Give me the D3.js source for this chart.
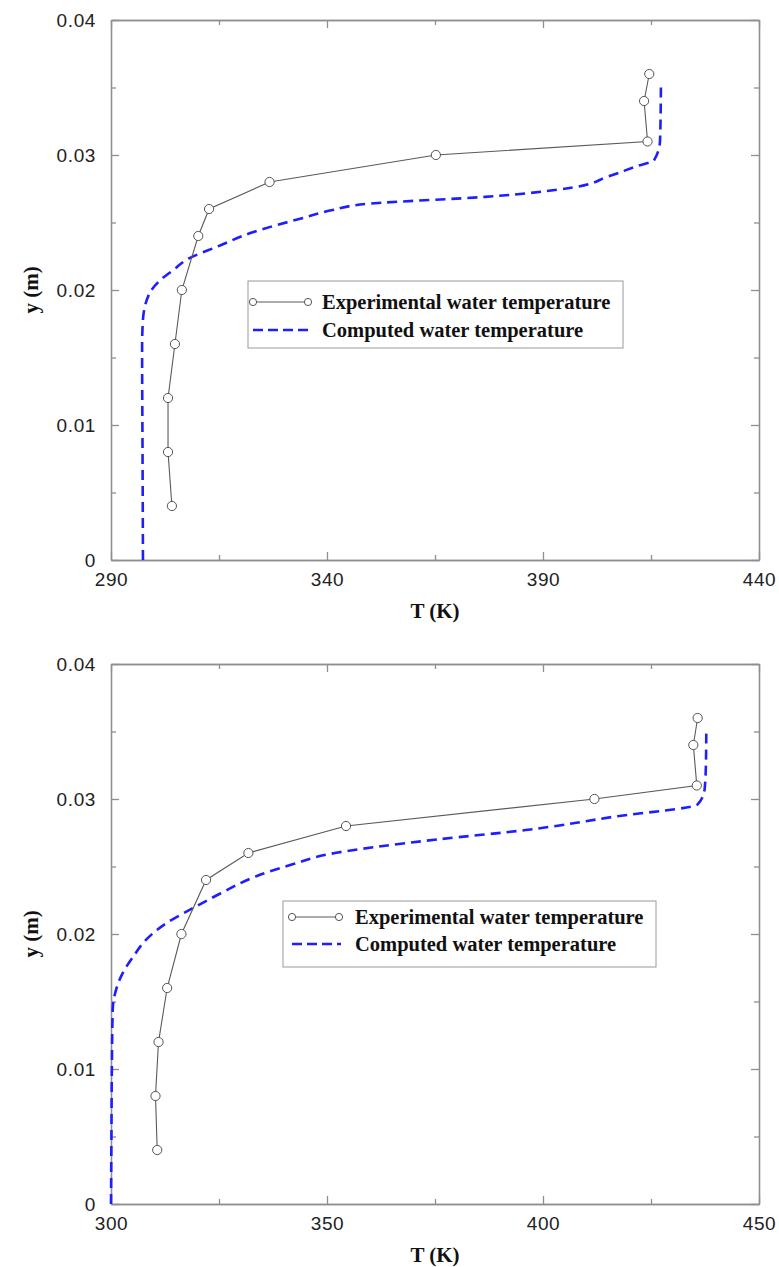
<!DOCTYPE html>
<html>
<head>
<meta charset="utf-8">
<script src="https://cdn.jsdelivr.net/npm/d3@7/dist/d3.min.js"></script>
<style>
    body { margin: 0; background: #fff; }
    .axis path, .axis line { stroke: #8f8f8f; stroke-width: 1.3; }
    .axis text { font-family: 'Liberation Sans', Arial, sans-serif; font-size: 19px; letter-spacing: 0.6px; fill: #222; }
    .label, .legend text { font-family: 'Liberation Serif', 'Times New Roman', serif; font-weight: bold; fill: #111; }
</style>
</head>
<body>
<div id="chart"></div>
<script>
// shared y axis (m)
var yTicks = [0, 0.01, 0.02, 0.03, 0.04];
var yMinorTicks = [0.005, 0.015, 0.025, 0.035];
var yTickLabels = ['0', '0.01', '0.02', '0.03', '0.04'];

// measured depths of the thermocouples
var expDepth = [0.004, 0.008, 0.012, 0.016, 0.020, 0.024, 0.026, 0.028, 0.030, 0.031, 0.034, 0.036];

// upper panel
var topTicks = [290, 340, 390, 440];
var topMinorTicks = [315, 365, 415];
var topExpT = [304.1, 303.2, 303.2, 304.8, 306.4, 310.2, 312.7, 326.7, 365.2, 414.2, 413.4, 414.6];
var topCompT = [297.4, 297.3, 297.2, 297.4, 299.0, 301.3, 304.5, 307.8, 314.5, 323.0, 334.0, 341.0, 350.0, 376.6, 397.0, 405.0, 412.0, 415.7, 417.1, 417.3];
var topCompY = [0, 0.008, 0.0158, 0.0178, 0.0198, 0.0207, 0.0215, 0.0223, 0.0232, 0.0243, 0.0253, 0.0259, 0.0264, 0.0269, 0.0276, 0.0284, 0.0292, 0.0296, 0.0311, 0.0352];

// lower panel
var bottomTicks = [300, 350, 400, 450];
var bottomMinorTicks = [325, 375, 425];
var bottomExpT = [310.7, 310.3, 311.0, 313.0, 316.3, 322.0, 331.8, 354.4, 411.9, 435.6, 434.8, 435.8];
var bottomCompT = [300.0, 300.1, 300.2, 300.4, 301.2, 302.7, 305.1, 308.2, 312.8, 318.3, 325.3, 333.8, 342.4, 350.2, 375.4, 396.0, 416.7, 435.8, 437.4, 437.7, 437.8];
var bottomCompY = [0, 0.005, 0.010, 0.0144, 0.0159, 0.0171, 0.0183, 0.0196, 0.0208, 0.0218, 0.0230, 0.0243, 0.0252, 0.0259, 0.0270, 0.0277, 0.0287, 0.0296, 0.0307, 0.0324, 0.0350];

var legendNames = ['Experimental water temperature', 'Computed water temperature'];

var left = 111,
    width = 648,
    height = 540;

var svg = d3.select('#chart').append('svg')
    .attr('width', 779)
    .attr('height', 1267);

function zip(a, b) {
    return a.map(function(v, i) { return {t: v, y: b[i]}; });
}

function drawPanel(cfg) {
    var g = svg.append('g')
        .attr('transform', 'translate(' + left + ',' + cfg.top + ')');

    var x = d3.scaleLinear().domain([cfg.ticks[0], cfg.ticks[cfg.ticks.length - 1]]).range([0, width]);
    var y = d3.scaleLinear().domain([0, 0.04]).range([height, 0]);

    // frame with inward ticks on every side
    g.append('g').attr('class', 'axis')
        .call(d3.axisLeft(y).tickValues(yTicks).tickSize(-8).tickSizeOuter(0).tickPadding(15)
            .tickFormat(function(d, i) { return yTickLabels[i]; }));
    g.append('g').attr('class', 'axis')
        .call(d3.axisLeft(y).tickValues(yMinorTicks).tickSize(-5).tickSizeOuter(0).tickFormat(''));
    g.append('g').attr('class', 'axis').attr('transform', 'translate(' + width + ',0)')
        .call(d3.axisRight(y).tickValues(yTicks).tickSize(-8).tickSizeOuter(0).tickFormat(''));
    g.append('g').attr('class', 'axis').attr('transform', 'translate(' + width + ',0)')
        .call(d3.axisRight(y).tickValues(yMinorTicks).tickSize(-5).tickSizeOuter(0).tickFormat(''));
    g.append('g').attr('class', 'axis').attr('transform', 'translate(0,' + height + ')')
        .call(d3.axisBottom(x).tickValues(cfg.ticks).tickSize(-8).tickSizeOuter(0).tickPadding(13)
            .tickFormat(d3.format('d')));
    g.append('g').attr('class', 'axis').attr('transform', 'translate(0,' + height + ')')
        .call(d3.axisBottom(x).tickValues(cfg.minor).tickSize(-5).tickSizeOuter(0).tickFormat(''));
    g.append('g').attr('class', 'axis')
        .call(d3.axisTop(x).tickValues(cfg.ticks).tickSize(-8).tickSizeOuter(0).tickFormat(''));
    g.append('g').attr('class', 'axis')
        .call(d3.axisTop(x).tickValues(cfg.minor).tickSize(-5).tickSizeOuter(0).tickFormat(''));

    // axis titles
    g.append('text').attr('class', 'label')
        .attr('transform', 'translate(' + (38 - left) + ',' + (height / 2) + ') rotate(-90)')
        .attr('text-anchor', 'middle')
        .style('font-size', '21px')
        .text('y (m)');
    g.append('text').attr('class', 'label')
        .attr('x', width / 2).attr('y', height + 58)
        .attr('text-anchor', 'middle')
        .style('font-size', '21px')
        .text('T (K)');

    var line = d3.line()
        .x(function(d) { return x(d.t); })
        .y(function(d) { return y(d.y); });

    // computed profile
    g.append('path')
        .datum(zip(cfg.compT, cfg.compY))
        .attr('d', line.curve(d3.curveMonotoneY))
        .attr('fill', 'none')
        .attr('stroke', '#1e1eff')
        .attr('stroke-width', 2.6)
        .attr('stroke-dasharray', '10,6');

    // measured profile
    var exp = zip(cfg.expT, expDepth);
    g.append('path')
        .datum(exp)
        .attr('d', line.curve(d3.curveLinear))
        .attr('fill', 'none')
        .attr('stroke', '#5a5a5a')
        .attr('stroke-width', 1.1);
    g.selectAll('.pt')
            .data(exp)
        .enter().append('circle')
            .attr('class', 'pt')
            .attr('cx', function(d) { return x(d.t); })
            .attr('cy', function(d) { return y(d.y); })
            .attr('r', 4.6)
            .attr('fill', '#fff')
            .attr('stroke', '#555')
            .attr('stroke-width', 1);

    // legend
    var lg = svg.append('g').attr('class', 'legend');
    var L = cfg.legend;
    lg.append('rect')
        .attr('x', L.x).attr('y', L.y).attr('width', L.w).attr('height', L.h)
        .attr('fill', '#fff').attr('stroke', '#9a9a9a').attr('stroke-width', 1);
    lg.append('line')
        .attr('x1', L.m1).attr('x2', L.m2).attr('y1', L.r1).attr('y2', L.r1)
        .attr('stroke', '#5a5a5a').attr('stroke-width', 1.1);
    [L.m1, L.m2].forEach(function(cx) {
        lg.append('circle').attr('cx', cx).attr('cy', L.r1).attr('r', 3.6)
            .attr('fill', '#fff').attr('stroke', '#555');
    });
    lg.append('line')
        .attr('x1', L.m1).attr('x2', L.m2 + 2).attr('y1', L.r2).attr('y2', L.r2)
        .attr('stroke', '#1e1eff').attr('stroke-width', 2.6).attr('stroke-dasharray', '10,5');
    [L.r1, L.r2].forEach(function(ry, i) {
        lg.append('text')
            .attr('x', L.tx).attr('y', ry + 7)
            .style('font-size', '20.5px')
            .text(legendNames[i]);
    });
}

drawPanel({
    top: 20, ticks: topTicks, minor: topMinorTicks,
    expT: topExpT, compT: topCompT, compY: topCompY,
    legend: {x: 248, y: 281, w: 375, h: 67, m1: 253, m2: 308, r1: 302, r2: 330, tx: 322}
});
drawPanel({
    top: 664, ticks: bottomTicks, minor: bottomMinorTicks,
    expT: bottomExpT, compT: bottomCompT, compY: bottomCompY,
    legend: {x: 283, y: 901, w: 373, h: 66, m1: 292, m2: 339, r1: 917, r2: 944, tx: 355}
});
</script>
</body>
</html>
